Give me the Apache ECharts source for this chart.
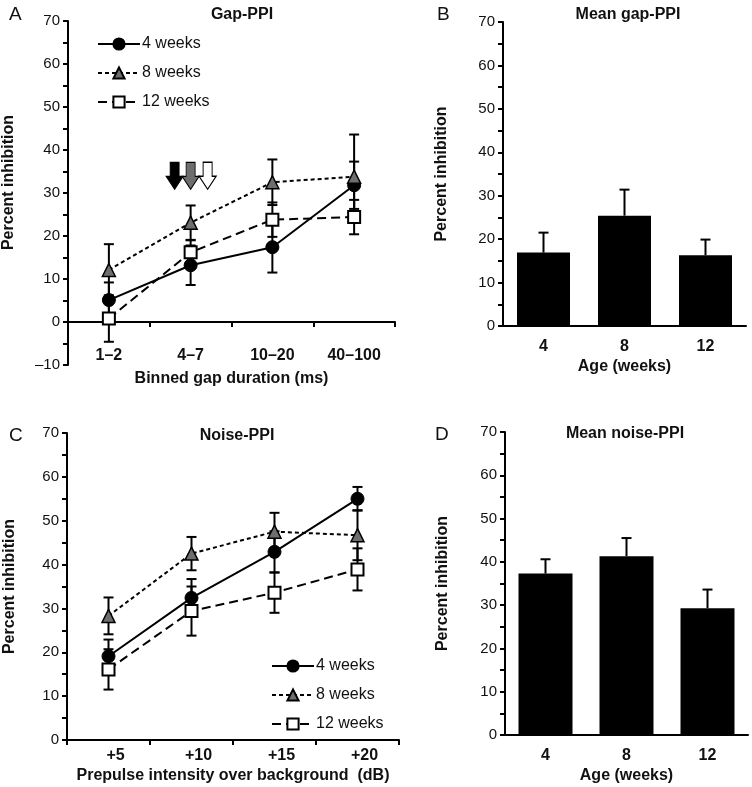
<!DOCTYPE html>
<html>
<head>
<meta charset="utf-8">
<script src="https://cdn.jsdelivr.net/npm/echarts@6/dist/echarts.min.js"></script>
<style>
html,body{margin:0;padding:0;background:#fff;}
#c{width:752px;height:787px;}
</style>
</head>
<body>
<div id="c"></div>
<script>
// ---- Data ----
const gapBins = ['1–2', '4–7', '10–20', '40–100'];
const gap4 = [5.1, 13.2, 17.4, 31.8];
const gap4Err = [4.1, 4.6, 5.9, 5.5];
const gap8 = [12.1, 23.1, 32.5, 33.8];
const gap8Err = [6.0, 4.0, 5.3, 9.8];
const gap12 = [0.8, 16.2, 23.8, 24.4];
const gap12Err = [5.4, 2.8, 4.0, 4.0];

const ages = ['4', '8', '12'];
const meanGap = [16.9, 25.4, 16.3];
const meanGapErr = [4.6, 6.0, 3.6];

const noiseLevels = ['+5', '+10', '+15', '+20'];
const noise4 = [19.1, 32.4, 42.9, 55.0];
const noise4Err = [3.8, 4.3, 4.7, 2.7];
const noise8 = [28.3, 42.5, 47.5, 46.7];
const noise8Err = [4.2, 3.8, 4.3, 5.7];
const noise12 = [16.1, 29.4, 33.6, 38.9];
const noise12Err = [4.6, 5.6, 4.6, 4.8];

const meanNoise = [37.3, 41.3, 29.3];
const meanNoiseErr = [3.3, 4.2, 4.3];

const seriesNames = ['4 weeks', '8 weeks', '12 weeks'];

// ---- Helpers ----
const FONT = 'Liberation Sans, Arial, Helvetica, sans-serif';
const INK = '#111';

function errData(vals, errs, both) {
  return vals.map((v, i) => [i, both ? v - errs[i] : v, v + errs[i]]);
}
function errRender(both) {
  return function (params, api) {
    const i = api.value(0);
    const lo = api.coord([i, api.value(1)]);
    const hi = api.coord([i, api.value(2)]);
    const w = 5;
    const st = { stroke: '#000', lineWidth: 2 };
    const ch = [
      { type: 'line', shape: { x1: lo[0], y1: lo[1], x2: hi[0], y2: hi[1] }, style: st },
      { type: 'line', shape: { x1: hi[0] - w, y1: hi[1], x2: hi[0] + w, y2: hi[1] }, style: st }
    ];
    if (both) ch.push({ type: 'line', shape: { x1: lo[0] - w, y1: lo[1], x2: lo[0] + w, y2: lo[1] }, style: st });
    return { type: 'group', children: ch };
  };
}
function errSeries(idx, vals, errs, both) {
  return {
    type: 'custom', xAxisIndex: idx, yAxisIndex: idx, z: 2,
    renderItem: errRender(both), data: errData(vals, errs, both),
    encode: { x: 0, y: [1, 2] }, silent: true
  };
}
const lineStyles = [
  { color: '#000', width: 2, type: 'solid' },
  { color: '#000', width: 2, type: [4, 3] },
  { color: '#000', width: 2, type: [9, 5] }
];
const symbols = ['circle', 'triangle', 'rect'];
const symbolSizes = [13, 13, 12];
const itemStyles = [
  { color: '#000', borderColor: '#000', borderWidth: 1 },
  { color: '#6e6e6e', borderColor: '#000', borderWidth: 1.5 },
  { color: '#fff', borderColor: '#000', borderWidth: 2 }
];
function lineSeries(idx, k, vals, extra) {
  return Object.assign({
    type: 'line', name: seriesNames[k], xAxisIndex: idx, yAxisIndex: idx, z: 3,
    data: vals, symbol: symbols[k], symbolSize: symbolSizes[k],
    lineStyle: lineStyles[k], itemStyle: itemStyles[k], showSymbol: true, animation: false
  }, extra || {});
}
function yAxis(grid, min, nameGap, namePad) {
  return {
    type: 'value', gridIndex: grid, min: min, max: 70, interval: 5,
    name: 'Percent inhibition', nameLocation: 'middle', nameGap: nameGap,
    nameTextStyle: { fontFamily: FONT, fontSize: 16, fontWeight: 'bold', color: INK, padding: namePad || 0 },
    axisLine: { show: true, onZero: false, lineStyle: { color: '#000', width: 2 } },
    axisTick: { show: true, length: 5, lineStyle: { color: '#000', width: 2 } },
    splitLine: { show: false },
    axisLabel: { fontFamily: FONT, fontSize: 15, color: INK, margin: 8,
      formatter: v => (v % 10 === 0 ? String(v).replace('-', '–') : '') }
  };
}
function xAxis(grid, data, name, margin, nameGap, ticks, labelPad) {
  return {
    type: 'category', gridIndex: grid, data: data,
    name: name, nameLocation: 'middle', nameGap: nameGap,
    nameTextStyle: { fontFamily: FONT, fontSize: 16, fontWeight: 'bold', color: INK },
    axisLine: { show: true, onZero: true, lineStyle: { color: '#000', width: 2 } },
    axisTick: { show: ticks, length: 5, lineStyle: { color: '#000', width: 2 } },
    splitLine: { show: false },
    axisLabel: { fontFamily: FONT, fontSize: 16, fontWeight: 'bold', color: INK, margin: margin, padding: labelPad || 0 }
  };
}
function legend(left, top) {
  return {
    left: left, top: top, orient: 'vertical', itemWidth: 42, itemHeight: 14, itemGap: 13,
    data: seriesNames, selectedMode: false,
    textStyle: { fontFamily: FONT, fontSize: 16, color: INK, padding: [0, 0, 0, -3] }
  };
}
const arrowPath = 'path://M4,0 L13,0 L13,14 L17,14 L8.5,27 L0,14 L4,14 Z';

const option = {
  backgroundColor: '#fff',
  animation: false,
  title: [
    { text: 'A', left: 4, top: 0, textStyle: { fontFamily: FONT, fontSize: 19, fontWeight: 'normal', color: INK } },
    { text: 'B', left: 432, top: 0, textStyle: { fontFamily: FONT, fontSize: 19, fontWeight: 'normal', color: INK } },
    { text: 'C', left: 4, top: 421, textStyle: { fontFamily: FONT, fontSize: 19, fontWeight: 'normal', color: INK } },
    { text: 'D', left: 430, top: 420, textStyle: { fontFamily: FONT, fontSize: 19, fontWeight: 'normal', color: INK } },
    { text: 'Gap-PPI', left: 237, top: 2, textAlign: 'center', textStyle: { fontFamily: FONT, fontSize: 16, fontWeight: 'bold', color: INK } },
    { text: 'Mean gap-PPI', left: 623, top: 2, textAlign: 'center', textStyle: { fontFamily: FONT, fontSize: 16, fontWeight: 'bold', color: INK } },
    { text: 'Noise-PPI', left: 232, top: 423, textAlign: 'center', textStyle: { fontFamily: FONT, fontSize: 16, fontWeight: 'bold', color: INK } },
    { text: 'Mean noise-PPI', left: 620, top: 421, textAlign: 'center', textStyle: { fontFamily: FONT, fontSize: 16, fontWeight: 'bold', color: INK } }
  ],
  legend: [legend(92, 31), legend(266, 653)],
  grid: [
    { left: 68, top: 21, width: 327, height: 344 },
    { left: 503, top: 22, width: 243, height: 304 },
    { left: 67, top: 433, width: 332, height: 307 },
    { left: 505, top: 432, width: 243, height: 303 }
  ],
  xAxis: [
    xAxis(0, gapBins, 'Binned gap duration (ms)', -17, 6, true),
    xAxis(1, ages, 'Age (weeks)', 13, 33, false),
    xAxis(2, noiseLevels, 'Prepulse intensity over background  (dB)', 8, 28, true, [0, 0, 0, 14]),
    xAxis(3, ages, 'Age (weeks)', 13, 33, false)
  ],
  yAxis: [
    yAxis(0, -10, 51, [0, 0, 0, 21]),
    yAxis(1, 0, 53),
    yAxis(2, 0, 49),
    yAxis(3, 0, 54)
  ],
  series: [
    // Panel A
    errSeries(0, gap4, gap4Err, true),
    errSeries(0, gap8, gap8Err, true),
    errSeries(0, gap12, gap12Err, true),
    lineSeries(0, 0, gap4, {
      markPoint: {
        silent: true,
        symbol: arrowPath, symbolSize: [17, 27], symbolKeepAspect: false,
        label: { show: false },
        data: [
          { coord: [gapBins[1], 34], symbolOffset: [-16, 0], itemStyle: { color: '#000', borderColor: '#000', borderWidth: 1 } },
          { coord: [gapBins[1], 34], symbolOffset: [0, 0], itemStyle: { color: '#6e6e6e', borderColor: '#000', borderWidth: 1 } },
          { coord: [gapBins[1], 34], symbolOffset: [17, 0], itemStyle: { color: '#fff', borderColor: '#000', borderWidth: 1.2 } }
        ]
      }
    }),
    lineSeries(0, 1, gap8),
    lineSeries(0, 2, gap12),
    // Panel B
    { type: 'bar', xAxisIndex: 1, yAxisIndex: 1, data: meanGap, barWidth: 53, itemStyle: { color: '#000' }, z: 2 },
    Object.assign(errSeries(1, meanGap, meanGapErr, false), { z: 3 }),
    // Panel C
    errSeries(2, noise4, noise4Err, true),
    errSeries(2, noise8, noise8Err, true),
    errSeries(2, noise12, noise12Err, true),
    lineSeries(2, 0, noise4),
    lineSeries(2, 1, noise8),
    lineSeries(2, 2, noise12),
    // Panel D
    { type: 'bar', xAxisIndex: 3, yAxisIndex: 3, data: meanNoise, barWidth: 54, itemStyle: { color: '#000' }, z: 2 },
    Object.assign(errSeries(3, meanNoise, meanNoiseErr, false), { z: 3 })
  ]
};

const chart = echarts.init(document.getElementById('c'), null, { renderer: 'canvas' });
chart.setOption(option);
</script>
</body>
</html>
